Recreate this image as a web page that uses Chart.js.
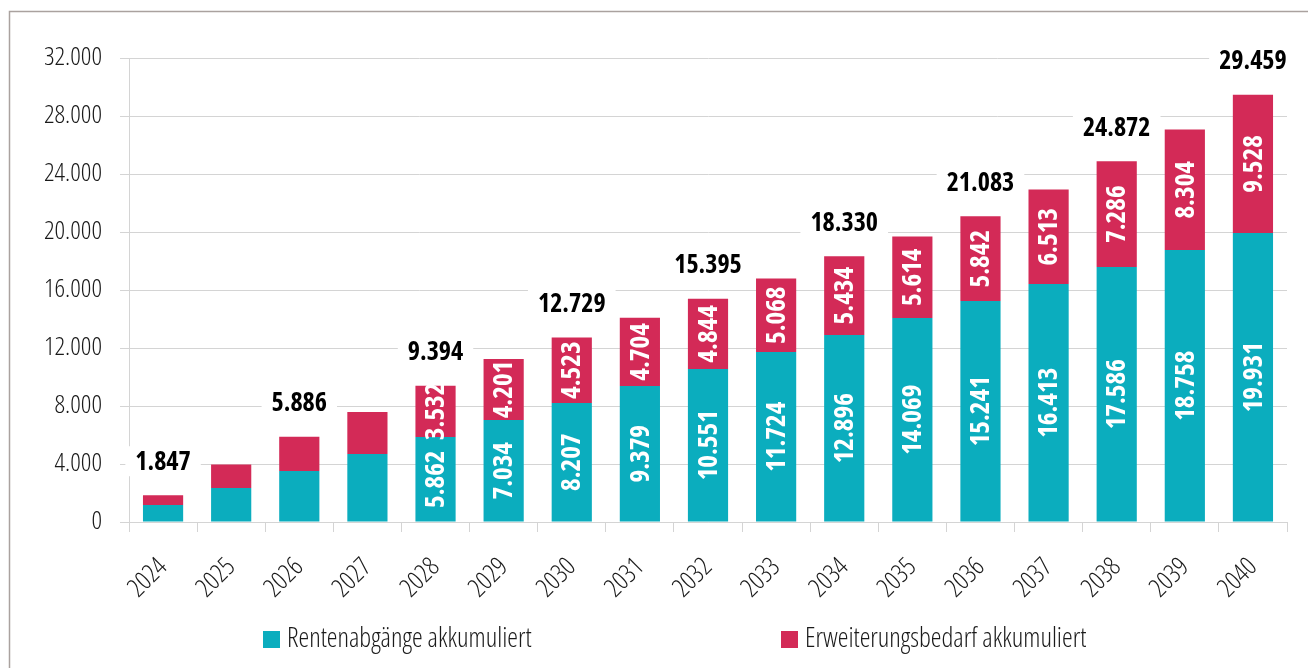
<!DOCTYPE html>
<html lang="de">
<head>
<meta charset="utf-8">
<title>Rentenabgänge und Erweiterungsbedarf</title>
<script src="https://cdn.jsdelivr.net/npm/chart.js@4/dist/chart.umd.min.js"></script>
<style>
  html, body { margin: 0; padding: 0; background: #fff; }
  #wrap { width: 1308px; height: 668px; }
</style>
</head>
<body>
<div id="wrap"><canvas id="chart" width="1308" height="668"></canvas></div>
<script>
// Jahre und kumulierte Werte
const years = ['2024', '2025', '2026', '2027', '2028', '2029', '2030', '2031', '2032',
               '2033', '2034', '2035', '2036', '2037', '2038', '2039', '2040'];
const rentenabgaenge = [1172, 2345, 3517, 4690, 5862, 7034, 8206.6, 9379, 10551,
                        11724, 12896, 14069, 15241, 16413, 17586, 18758, 19931];
const erweiterungsbedarf = [675, 1625, 2369, 2900, 3532, 4201, 4522.6, 4704, 4844,
                            5068, 5434, 5614, 5842, 6513, 7286, 8304, 9528];
const seriesNames = ['Rentenabgänge akkumuliert', 'Erweiterungsbedarf akkumuliert'];
const yTicks = [0, 4000, 8000, 12000, 16000, 20000, 24000, 28000, 32000];

const totals = years.map((_, i) => rentenabgaenge[i] + erweiterungsbedarf[i]);

const TEAL = '#0badbe';
const RED = '#d32a57';
const FONT = '"Open Sans", "DejaVu Sans", sans-serif';
const LIGHT = '300 condensed';
const BOLD = 'bold condensed';

function fmt(v) {
  return String(Math.round(v)).replace(/\B(?=(\d{3})+(?!\d))/g, '.');
}

// weisser Hintergrund und Rahmen oben/links
const frame = {
  id: 'frame',
  beforeDraw(chart) {
    const ctx = chart.ctx;
    ctx.save();
    ctx.fillStyle = '#fff';
    ctx.fillRect(0, 0, chart.width, chart.height);
    ctx.strokeStyle = '#aaa29f';
    ctx.lineWidth = 1.5;
    ctx.beginPath();
    ctx.moveTo(9.5, chart.height);
    ctx.lineTo(9.5, 11.5);
    ctx.lineTo(chart.width, 11.5);
    ctx.stroke();
    ctx.restore();
  }
};

const barLabels = {
  id: 'barLabels',
  afterDatasetsDraw(chart) {
    const ctx = chart.ctx;
    ctx.save();
    ctx.textAlign = 'center';
    ctx.textBaseline = 'middle';

    // Werte in den Segmenten ab 2028
    chart.data.datasets.forEach((ds, di) => {
      chart.getDatasetMeta(di).data.forEach((bar, i) => {
        if (i < 4) return;
        ctx.save();
        ctx.translate(bar.x, (bar.y + bar.base) / 2);
        ctx.rotate(-Math.PI / 2);
        ctx.font = BOLD + ' 27px ' + FONT;
        ctx.fillStyle = '#fff';
        ctx.fillText(fmt(ds.data[i]), 0, 1);
        ctx.restore();
      });
    });

    // Summen ueber jedem zweiten Balken, mit weissem Hintergrund
    const bars = chart.getDatasetMeta(1).data;
    const y = chart.scales.y;
    ctx.font = BOLD + ' 26px ' + FONT;
    totals.forEach((t, i) => {
      if (i % 2) return;
      const text = fmt(t);
      const cx = bars[i].x;
      const cy = y.getPixelForValue(t) - 34;
      const w = ctx.measureText(text).width + 20;
      ctx.fillStyle = '#fff';
      ctx.fillRect(cx - w / 2, cy - 15, w, 30);
      ctx.fillStyle = '#000';
      ctx.fillText(text, cx, cy + 1);
    });
    ctx.restore();
  },
  afterDraw(chart) {
    // Legende unten
    const ctx = chart.ctx;
    const left = chart.chartArea.left;
    const items = [
      { x: left + 134, color: TEAL, text: seriesNames[0] },
      { x: left + 652, color: RED, text: seriesNames[1] }
    ];
    ctx.save();
    ctx.font = LIGHT + ' 27px ' + FONT;
    ctx.textBaseline = 'middle';
    items.forEach(it => {
      ctx.fillStyle = it.color;
      ctx.fillRect(it.x, 631, 17, 17);
      ctx.fillStyle = '#1a1a1a';
      ctx.fillText(it.text, it.x + 24, 639);
    });
    ctx.restore();
  }
};

new Chart(document.getElementById('chart'), {
  type: 'bar',
  data: {
    labels: years,
    datasets: [
      { label: seriesNames[0], data: rentenabgaenge, backgroundColor: TEAL },
      { label: seriesNames[1], data: erweiterungsbedarf, backgroundColor: RED }
    ]
  },
  options: {
    responsive: false,
    animation: false,
    devicePixelRatio: 1,
    categoryPercentage: 1,
    barPercentage: 0.59,
    layout: { padding: { top: 58, right: 21, left: 0, bottom: 0 } },
    plugins: {
      legend: { display: false },
      tooltip: { enabled: false }
    },
    scales: {
      x: {
        stacked: true,
        afterFit(scale) { scale.height = 146; },
        grid: { display: true, drawOnChartArea: false, tickLength: 10, color: '#d4d4d4', offset: true },
        border: { color: '#d4d4d4' },
        ticks: {
          maxRotation: 45, minRotation: 45, padding: 20,
          color: '#1a1a1a',
          font: { family: FONT, size: 26, weight: LIGHT }
        }
      },
      y: {
        stacked: true,
        min: 0, max: 32000,
        afterFit(scale) { scale.width = 129; },
        afterBuildTicks(scale) { scale.ticks = yTicks.map(v => ({ value: v })); },
        grid: { color: '#d4d4d4', tickLength: 9 },
        border: { color: '#d4d4d4' },
        ticks: {
          padding: 18,
          color: '#1a1a1a',
          font: { family: FONT, size: 26, weight: LIGHT },
          callback: v => fmt(v)
        }
      }
    }
  },
  plugins: [frame, barLabels]
});
</script>
</body>
</html>
